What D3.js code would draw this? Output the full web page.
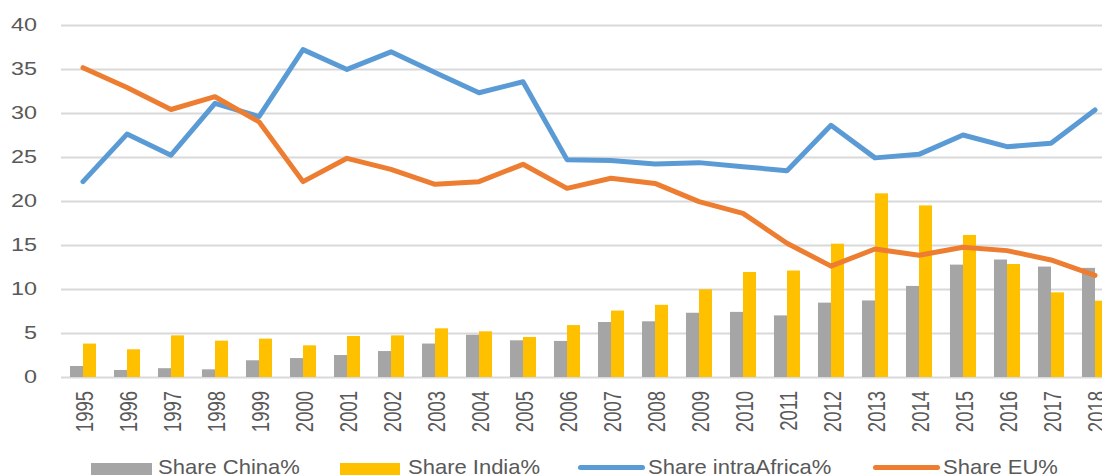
<!DOCTYPE html>
<html>
<head>
<meta charset="utf-8">
<script src="https://cdn.jsdelivr.net/npm/d3@7"></script>
<style>
  html, body { margin: 0; padding: 0; background: #fff; overflow: hidden; }
  text { font-family: "Liberation Sans", Arial, sans-serif; fill: #595959; }
</style>
</head>
<body>
<div id="chart"></div>
<script>
let width = 1102, height = 475;

let years = ["1995","1996","1997","1998","1999","2000","2001","2002","2003","2004","2005","2006",
             "2007","2008","2009","2010","2011","2012","2013","2014","2015","2016","2017","2018"];
let shareChina = [1.25,0.8,1.0,0.87,1.9,2.15,2.5,2.95,3.8,4.8,4.17,4.1,
                  6.25,6.33,7.3,7.4,7.0,8.45,8.7,10.35,12.77,13.35,12.55,12.4];
let shareIndia = [3.8,3.15,4.73,4.13,4.36,3.6,4.66,4.73,5.53,5.19,4.55,5.9,
                  7.55,8.2,9.97,11.93,12.1,15.15,20.87,19.5,16.14,12.84,9.62,8.67];
let shareAfrica = [22.2,27.6,25.2,31.1,29.6,37.2,34.95,36.95,34.6,32.3,33.55,24.7,
                   24.6,24.2,24.36,23.9,23.45,28.6,24.9,25.3,27.5,26.17,26.55,30.35];
let shareEU = [35.15,32.9,30.4,31.85,29.0,22.2,24.85,23.6,21.9,22.2,24.17,21.44,
               22.58,22.0,19.93,18.6,15.2,12.6,14.55,13.83,14.74,14.36,13.3,11.55];
let yTicks = [0,5,10,15,20,25,30,35,40];

let colors = {china: "#A5A5A5", india: "#FFC000", africa: "#5B9BD5", eu: "#ED7D31"};

let margin = {top: 25, left: 61, bottom: 98};
let step = 44;

let x = d3.scaleBand()
    .domain(years)
    .range([margin.left, margin.left + step * years.length]);

let x1 = d3.scaleBand()
    .domain(["china", "india"])
    .range([0, x.bandwidth()])
    .paddingOuter(0.69);

let y = d3.scaleLinear()
    .domain([0, 40])
    .range([height - margin.bottom, margin.top]);

let svg = d3.select("#chart")
    .append("svg")
    .attr("width", width)
    .attr("height", height);

// gridlines
svg.append("g")
    .selectAll("line")
    .data(yTicks)
    .join("line")
    .attr("x1", margin.left)
    .attr("x2", width)
    .attr("y1", d => Math.round(y(d)) + 0.5)
    .attr("y2", d => Math.round(y(d)) + 0.5)
    .attr("stroke", "#D9D9D9")
    .attr("stroke-width", 2);

// y labels
svg.append("g")
    .selectAll("text")
    .data(yTicks)
    .join("text")
    .attr("transform", d => `translate(37,${y(d)}) scale(1.3,1)`)
    .attr("text-anchor", "end")
    .attr("dy", "0.36em")
    .attr("font-size", 18)
    .text(d => d);

// bars
let rows = years.map((yr, i) => ({year: yr, china: shareChina[i], india: shareIndia[i]}));
svg.append("g")
    .selectAll("g")
    .data(rows)
    .join("g")
    .attr("transform", d => `translate(${x(d.year)},0)`)
    .selectAll("rect")
    .data(d => ["china", "india"].map(k => ({key: k, value: d[k]})))
    .join("rect")
    .attr("x", d => x1(d.key))
    .attr("y", d => y(d.value))
    .attr("width", x1.bandwidth())
    .attr("height", d => y(0) - y(d.value))
    .attr("fill", d => colors[d.key]);

// lines
let line = d3.line()
    .x((d, i) => x(years[i]) + x.bandwidth() / 2)
    .y(d => y(d));

[["africa", shareAfrica], ["eu", shareEU]].forEach(([k, vals]) => {
    svg.append("path")
        .datum(vals)
        .attr("fill", "none")
        .attr("stroke", colors[k])
        .attr("stroke-width", 5)
        .attr("stroke-linejoin", "round")
        .attr("stroke-linecap", "round")
        .attr("d", line);
});

// x labels
svg.append("g")
    .selectAll("text")
    .data(years)
    .join("text")
    .attr("transform", d => `translate(${x(d) + x.bandwidth() / 2 + 1},391) scale(1.3,1) rotate(-90)`)
    .attr("text-anchor", "end")
    .attr("dy", "0.36em")
    .attr("font-size", 18.5)
    .text(d => d);

// legend
let legend = [
    {label: "Share China%", key: "china", type: "rect", x0: 91, x1: 152, tx: 158},
    {label: "Share India%", key: "india", type: "rect", x0: 340, x1: 400, tx: 408},
    {label: "Share intraAfrica%", key: "africa", type: "line", x0: 580.5, x1: 642.5, tx: 648},
    {label: "Share EU%", key: "eu", type: "line", x0: 875.5, x1: 937.5, tx: 943}
];
let lg = svg.append("g");
legend.forEach(d => {
    if (d.type === "rect") {
        lg.append("rect")
            .attr("x", d.x0).attr("y", 463)
            .attr("width", d.x1 - d.x0).attr("height", 12)
            .attr("fill", colors[d.key]);
    } else {
        lg.append("line")
            .attr("x1", d.x0).attr("x2", d.x1)
            .attr("y1", 467.5).attr("y2", 467.5)
            .attr("stroke", colors[d.key])
            .attr("stroke-width", 5)
            .attr("stroke-linecap", "round");
    }
    lg.append("text")
        .attr("transform", `translate(${d.tx},474) scale(1.1,1)`)
        .attr("font-size", 20)
        .text(d.label);
});
</script>
</body>
</html>
